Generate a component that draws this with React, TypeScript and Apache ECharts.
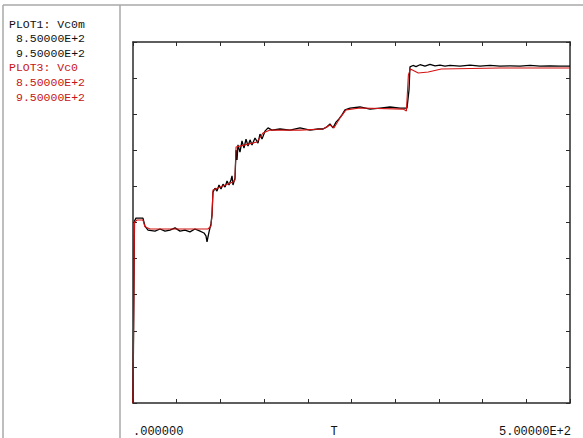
import React, { useEffect, useRef } from "react";
import * as echarts from "echarts";

// PLOT1: Vc0m (black, noisy measurement)
const vc0mT = [0, 1.7, 3.4, 11.4, 13.7, 17.2, 25.2, 30.9, 36.6, 42.3, 48.1, 53.8, 59.5, 65.2, 70.9, 76.7, 81.2, 83.5, 84.7, 85.8, 87.0, 89.2, 90.4, 91.5, 93.8, 96.1, 98.4, 100.7, 103.0, 105.3, 107.6, 109.8, 112.1, 113.3, 114.4, 116.7, 117.9, 119.0, 120.1, 122.4, 124.7, 127.0, 129.3, 131.6, 133.9, 136.2, 139.6, 143.0, 145.3, 147.6, 151.0, 154.5, 159.0, 168.2, 179.6, 191.1, 202.5, 211.7, 217.4, 222.0, 225.4, 228.8, 232.3, 235.7, 239.1, 242.6, 248.3, 259.7, 271.2, 282.6, 294.1, 305.5, 313.5, 315.8, 316.9, 320.4, 323.8, 328.4, 334.1, 339.8, 345.6, 351.3, 357.0, 362.7, 374.1, 385.6, 397.0, 408.5, 419.9, 431.4, 442.8, 454.3, 465.7, 477.1, 488.5, 500];
const vc0mV = [850, 900.4, 901.2, 901.2, 899.0, 897.9, 897.6, 898.2, 897.6, 897.9, 898.5, 897.6, 897.9, 897.4, 898.2, 897.6, 897.1, 896.3, 894.6, 896.0, 897.4, 899.6, 902.1, 908.4, 909.5, 908.7, 910.4, 909.3, 910.6, 909.8, 911.5, 910.4, 911.8, 912.9, 910.4, 912.3, 920.1, 917.3, 921.5, 919.5, 922.6, 920.6, 923.1, 921.2, 922.9, 921.5, 923.4, 922.0, 924.5, 923.1, 925.3, 926.2, 925.6, 925.9, 925.6, 926.2, 925.6, 925.9, 925.9, 926.5, 927.3, 926.2, 927.8, 928.7, 929.8, 931.2, 931.7, 932.0, 931.4, 931.7, 932.0, 931.7, 931.7, 936.7, 943.1, 943.5, 943.2, 943.7, 943.3, 943.8, 943.4, 943.6, 943.3, 943.5, 943.3, 943.6, 943.3, 943.5, 943.3, 943.4, 943.3, 943.5, 943.3, 943.4, 943.3, 943.3];

// PLOT3: Vc0 (red, smooth)
const vc0T = [0, 1.7, 4.6, 11.4, 13.7, 19.5, 85.8, 89.2, 90.4, 91.5, 114.4, 116.7, 117.9, 128.2, 141.9, 148.7, 156.8, 191.1, 217.4, 225.4, 229.9, 236.9, 243.7, 259.7, 309.4, 312.8, 315.1, 317.4, 326.4, 337.8, 352.8, 419.9, 500];
const vc0V = [850, 900.1, 900.7, 900.7, 898.8, 898.2, 898.2, 899.0, 902.1, 909.0, 911.2, 911.8, 920.9, 921.5, 922.3, 924.8, 925.6, 925.6, 925.9, 927.0, 926.2, 929.0, 931.2, 931.7, 931.4, 930.9, 940.9, 942.5, 941.4, 941.7, 942.5, 942.8, 942.8];

const xMin = 0;
const xMax = 500;
const xStep = 50;
const yMin = 850;
const yMax = 950;
const yStep = 10;

const legendLines = [
  { text: "PLOT1: Vc0m", color: "#111111", indent: false },
  { text: "8.50000E+2", color: "#111111", indent: true },
  { text: "9.50000E+2", color: "#111111", indent: true },
  { text: "PLOT3: Vc0", color: "#c81414", indent: false },
  { text: "8.50000E+2", color: "#c81414", indent: true },
  { text: "9.50000E+2", color: "#c81414", indent: true },
];
const xLabelLeft = ".000000";
const xLabelMid = "T";
const xLabelRight = "5.00000E+2";

export default function App() {
  const ref = useRef<HTMLDivElement>(null);
  useEffect(() => {
    if (!ref.current) return;
    const chart = echarts.init(ref.current, null, { renderer: "svg" });
    const axisCommon = {
      type: "value" as const,
      axisLine: { show: true, onZero: false, lineStyle: { color: "#2a2a2a", width: 1.5 } },
      axisTick: { show: true, inside: true, length: 4, lineStyle: { color: "#2a2a2a", width: 1 } },
      axisLabel: { show: false },
      splitLine: { show: false },
    };
    const font = "'Liberation Mono', 'DejaVu Sans Mono', monospace";
    const graphics: any[] = [
      { type: "line", shape: { x1: 3, y1: 5, x2: 583, y2: 5 }, style: { stroke: "#a8a8a8", lineWidth: 1.5 } },
      { type: "line", shape: { x1: 3, y1: 5, x2: 3, y2: 438 }, style: { stroke: "#a8a8a8", lineWidth: 1.5 } },
      { type: "line", shape: { x1: 120, y1: 5, x2: 120, y2: 438 }, style: { stroke: "#a8a8a8", lineWidth: 1.5 } },
    ];
    legendLines.forEach((l, i) => {
      graphics.push({
        type: "text",
        x: l.indent ? 16 : 9,
        y: 24 + i * 14.6,
        style: { text: l.text, fill: l.color, font: `11.5px ${font}`, textVerticalAlign: "middle", textAlign: "left" },
      });
    });
    graphics.push(
      { type: "text", x: 133, y: 432, style: { text: xLabelLeft, fill: "#111", font: `12px ${font}`, textVerticalAlign: "middle", textAlign: "left" } },
      { type: "text", x: 334, y: 432, style: { text: xLabelMid, fill: "#111", font: `12px ${font}`, textVerticalAlign: "middle", textAlign: "center" } },
      { type: "text", x: 571, y: 432, style: { text: xLabelRight, fill: "#111", font: `12px ${font}`, textVerticalAlign: "middle", textAlign: "right" } }
    );
    chart.setOption({
      animation: false,
      backgroundColor: "#ffffff",
      grid: { left: 133, top: 42, right: 13, bottom: 35, containLabel: false },
      xAxis: [
        { ...axisCommon, position: "bottom", min: xMin, max: xMax, interval: xStep },
        { ...axisCommon, position: "top", min: xMin, max: xMax, interval: xStep },
      ],
      yAxis: [
        { ...axisCommon, position: "left", min: yMin, max: yMax, interval: yStep },
        { ...axisCommon, position: "right", min: yMin, max: yMax, interval: yStep },
      ],
      graphic: graphics,
      series: [
        {
          name: "Vc0m",
          type: "line",
          data: vc0mT.map((t, i) => [t, vc0mV[i]]),
          showSymbol: false,
          lineStyle: { color: "#000000", width: 1.3 },
          z: 2,
        },
        {
          name: "Vc0",
          type: "line",
          data: vc0T.map((t, i) => [t, vc0V[i]]),
          showSymbol: false,
          lineStyle: { color: "#d41010", width: 1.1 },
          z: 3,
        },
      ],
    });
    return () => chart.dispose();
  }, []);
  return (
    <div
      ref={ref}
      style={{ position: "absolute", left: 0, top: 0, width: 583, height: 438, background: "#fff" }}
    />
  );
}
